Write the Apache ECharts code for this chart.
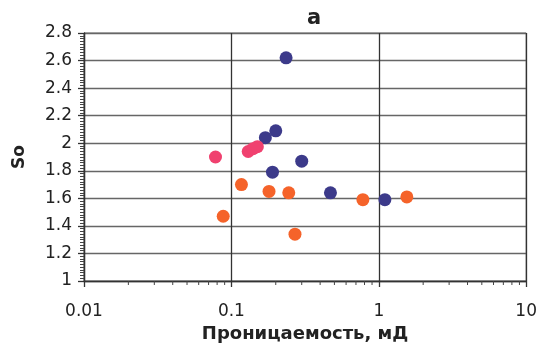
<!DOCTYPE html>
<html>
<head>
<meta charset="utf-8">
<script src="https://cdn.jsdelivr.net/npm/echarts@6/dist/echarts.min.js"></script>
<style>
  html, body { margin: 0; padding: 0; background: #ffffff; }
  #chart { width: 540px; height: 348px; }
</style>
</head>
<body>
<div id="chart"></div>
<script>
// Permeability (mD) vs So, three sample groups
const blueK  = [0.235, 0.20, 0.17, 0.30, 0.19, 0.47, 1.10];
const blueSo = [2.62, 2.09, 2.04, 1.87, 1.79, 1.64, 1.59];

const pinkK  = [0.078, 0.13, 0.14, 0.15];
const pinkSo = [1.90, 1.94, 1.96, 1.975];

const orangeK  = [0.117, 0.088, 0.18, 0.245, 0.27, 0.78, 1.55];
const orangeSo = [1.70, 1.47, 1.65, 1.64, 1.34, 1.59, 1.61];

const xTicks = [0.01, 0.1, 1, 10];
const xMinorTicks = [];
for (let d = 0.01; d < 10; d *= 10) {
  for (let m = 2; m <= 9; m++) xMinorTicks.push(+(m * d).toPrecision(3));
}

const titleText = 'a';
const xName = 'Проницаемость, мД';
const yName = 'So';

const pairs = (xs, ys) => xs.map((x, i) => [x, ys[i]]);
const font = '"DejaVu Sans", "Liberation Sans", Arial, sans-serif';

const chart = echarts.init(document.getElementById('chart'), null, { renderer: 'canvas' });
chart.setOption({
  backgroundColor: '#ffffff',
  animation: false,
  title: {
    text: titleText,
    left: 302, top: 3,
    textStyle: { fontFamily: font, fontSize: 21, fontWeight: 'bold', color: '#222' }
  },
  grid: {
    left: 84, right: 11, top: 33, bottom: 59,
    show: true, borderColor: '#666', borderWidth: 1, backgroundColor: 'transparent'
  },
  xAxis: {
    type: 'log', logBase: 10, min: 0.01, max: 10,
    name: xName, nameLocation: 'middle', nameGap: 44,
    nameTextStyle: { fontFamily: font, fontSize: 18, fontWeight: 'bold', color: '#222' },
    axisLine: { show: true, lineStyle: { color: '#333', width: 1.3 } },
    axisTick: { show: true, inside: false, length: 6, lineStyle: { color: '#333', width: 1.3 } },
    minorTick: { show: false },
    axisLabel: {
      fontFamily: font, fontSize: 17, color: '#222', margin: 22,
      formatter: v => String(+v.toPrecision(3))
    },
    splitLine: { show: true, lineStyle: { color: '#333', width: 1.3 } }
  },
  yAxis: {
    type: 'value', min: 1, max: 2.8, interval: 0.2,
    name: yName, nameLocation: 'middle', nameGap: 56, nameRotate: 90,
    nameTextStyle: { fontFamily: font, fontSize: 17, fontWeight: 'bold', color: '#222' },
    axisLine: { show: true, lineStyle: { color: '#333', width: 1.3 } },
    axisTick: { show: true, inside: false, length: 6, lineStyle: { color: '#333', width: 1.3 } },
    minorTick: { show: true, splitNumber: 10, length: 4, lineStyle: { color: '#444', width: 1 } },
    axisLabel: {
      fontFamily: font, fontSize: 17, color: '#222', margin: 12,
      formatter: v => String(+v.toFixed(1))
    },
    splitLine: { show: true, lineStyle: { color: '#666', width: 1.4 } }
  },
  series: [
    {
      // logarithmic minor ticks under the x axis
      type: 'custom',
      silent: true,
      clip: false,
      data: xMinorTicks.map(v => [v, 1]),
      renderItem: (params, api) => {
        const p = api.coord([api.value(0), api.value(1)]);
        return {
          type: 'line',
          shape: { x1: p[0], y1: p[1], x2: p[0], y2: p[1] + 4 },
          style: { stroke: '#444', lineWidth: 1 }
        };
      },
      z: 1
    },
    {
      type: 'scatter', symbol: 'circle', symbolSize: 13,
      itemStyle: { color: '#3c3a8a', opacity: 1 },
      data: pairs(blueK, blueSo), z: 3
    },
    {
      type: 'scatter', symbol: 'circle', symbolSize: 13,
      itemStyle: { color: '#f0416f', opacity: 1 },
      data: pairs(pinkK, pinkSo), z: 4
    },
    {
      type: 'scatter', symbol: 'circle', symbolSize: 13,
      itemStyle: { color: '#f5632a', opacity: 1 },
      data: pairs(orangeK, orangeSo), z: 4
    }
  ]
});
</script>
</body>
</html>
